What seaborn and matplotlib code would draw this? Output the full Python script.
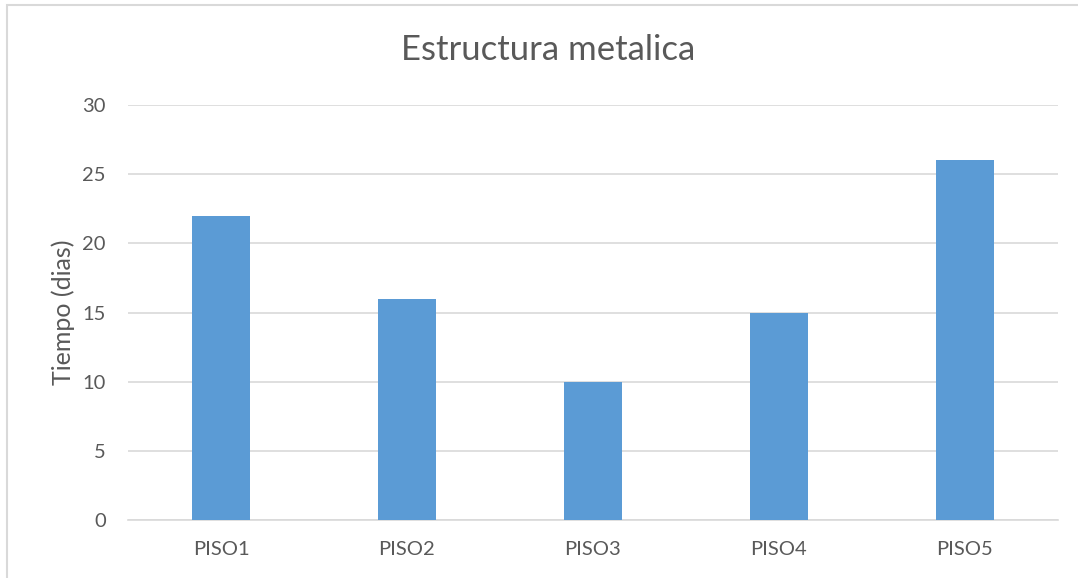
import matplotlib
matplotlib.use("Agg")
import matplotlib.pyplot as plt
import seaborn as sns
from matplotlib.patches import Rectangle

# chart data
pisos = ["PISO1", "PISO2", "PISO3", "PISO4", "PISO5"]
tiempo_dias = [22, 16, 10, 15, 26]

sns.set_style("white")
plt.rcParams["font.family"] = ["Lato", "DejaVu Sans"]

text_color = "#595959"
grid_color = "#D9D9D9"

fig = plt.figure(figsize=(10.78, 5.78), dpi=100)
ax = fig.add_axes([128 / 1078, 58 / 578, 930 / 1078, 415 / 578])

sns.barplot(x=pisos, y=tiempo_dias, color="#5B9BD5", width=0.31,
            saturation=1, linewidth=0, ax=ax, zorder=3)

ax.set_ylim(0, 30)
ax.set_xlim(-0.5, 4.5)
ax.set_yticks(range(0, 31, 5))
ax.yaxis.grid(True, color=grid_color, linewidth=1.2, zorder=0)
ax.xaxis.grid(False)
for s in ["top", "right", "left"]:
    ax.spines[s].set_visible(False)
ax.spines["bottom"].set_color(grid_color)
ax.spines["bottom"].set_linewidth(1.2)
ax.tick_params(axis="both", length=0, labelsize=14.5, colors=text_color)
ax.tick_params(axis="y", pad=16)
ax.tick_params(axis="x", pad=15)

ax.set_ylabel("Tiempo (dias)", fontsize=18, color=text_color, labelpad=5)
ax.set_xlabel("")
fig.text(548 / 1078, 1 - 50 / 578, "Estructura metalica", ha="center", va="center",
         fontsize=25, color=text_color)

# chart area border
fig.patches.append(Rectangle((7 / 1078, -0.1), 1.2, 1 - 5 / 578 + 0.1,
                             transform=fig.transFigure, fill=False,
                             edgecolor="#D9D9D9", linewidth=1.5))

fig.savefig("out.png", dpi=100)
